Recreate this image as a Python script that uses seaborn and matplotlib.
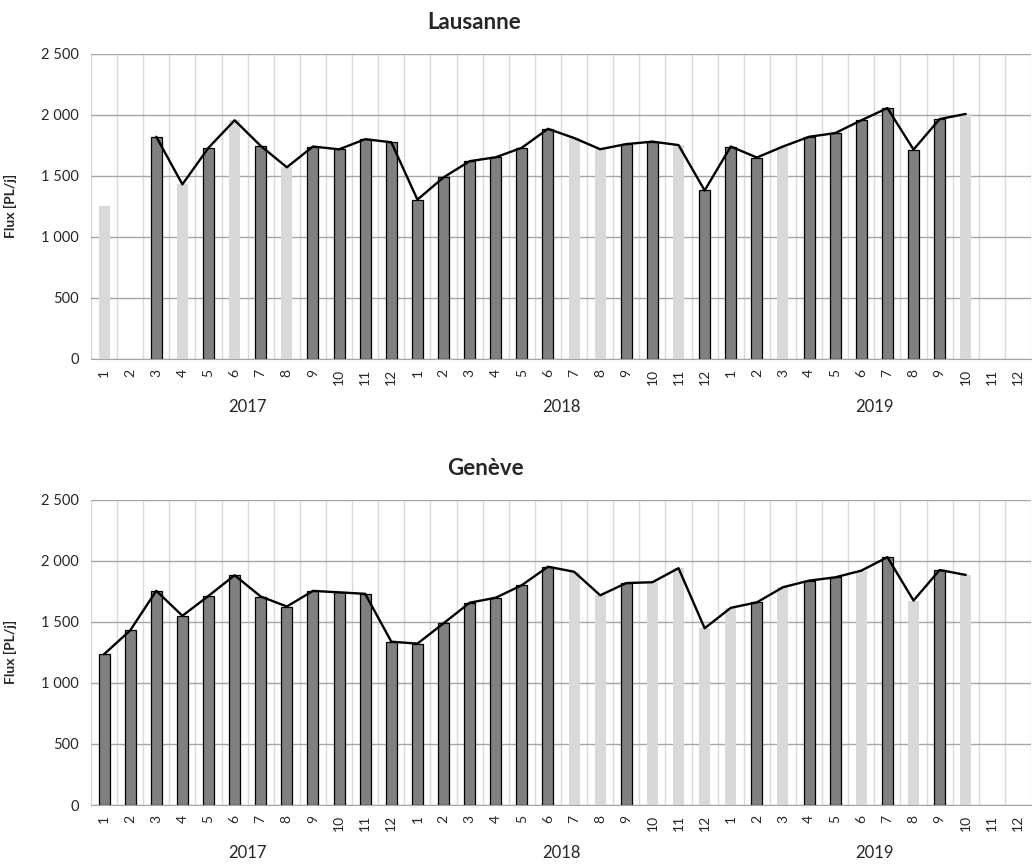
import pandas as pd
import seaborn as sns
import matplotlib.pyplot as plt
from matplotlib.ticker import FixedLocator

sns.set_style('white')
plt.rcParams['font.family'] = ['Lato', 'DejaVu Sans']

# Données
annees = ['2017', '2018', '2019']
mois = [str(m) for m in range(1, 13)] * 3
y_ticks = [0, 500, 1000, 1500, 2000, 2500]
y_labels = ['0', '500', '1 000', '1 500', '2 000', '2 500']

# M = mesuré (barre foncée), E = estimé (barre claire)
lausanne = [1250, None, 1820, 1430, 1730, 1955, 1745, 1570, 1740, 1717, 1800, 1775,
            1305, 1487, 1620, 1652, 1730, 1885, 1810, 1718, 1760, 1780, 1752, 1380,
            1740, 1650, 1740, 1820, 1850, 1955, 2055, 1715, 1965, 2007, None, None]
lausanne_type = ['E', 'E', 'M', 'E', 'M', 'E', 'M', 'E', 'M', 'M', 'M', 'M',
                 'M', 'M', 'M', 'M', 'M', 'M', 'E', 'E', 'M', 'M', 'E', 'M',
                 'M', 'M', 'E', 'M', 'M', 'M', 'M', 'M', 'M', 'E', 'E', 'E']
lausanne_sans_ligne = [0, 1]

geneve = [1235, 1430, 1755, 1550, 1713, 1882, 1708, 1626, 1754, 1742, 1730, 1338,
          1322, 1488, 1657, 1698, 1801, 1952, 1911, 1718, 1818, 1825, 1940, 1448,
          1615, 1660, 1784, 1838, 1865, 1920, 2030, 1675, 1925, 1885, None, None]
geneve_type = ['M', 'M', 'M', 'M', 'M', 'M', 'M', 'M', 'M', 'M', 'M', 'M',
               'M', 'M', 'M', 'M', 'M', 'M', 'E', 'E', 'M', 'E', 'E', 'E',
               'E', 'M', 'E', 'M', 'M', 'E', 'M', 'E', 'M', 'E', 'E', 'E']
geneve_sans_ligne = []

couleurs = {'M': '#808080', 'E': '#D9D9D9'}


def tracer(ax, valeurs, types, sans_ligne, titre, titre_x):
    df = pd.DataFrame({'pos': range(36), 'val': valeurs, 'type': types})
    df['val'] = df['val'].astype(float)
    barres = df.dropna(subset=['val'])

    sns.barplot(data=barres, x='pos', y='val', hue='type', order=list(range(36)),
                hue_order=['M', 'E'], palette=couleurs, dodge=False, width=0.42,
                errorbar=None, legend=False, ax=ax, zorder=2)
    # contour noir uniquement pour les barres foncées
    for patch in ax.containers[0]:
        patch.set_edgecolor('black')
        patch.set_linewidth(0.9)
    for patch in ax.containers[1]:
        patch.set_linewidth(0)

    ligne = df.drop(index=sans_ligne).dropna(subset=['val'])
    sns.lineplot(data=ligne, x='pos', y='val', color='black', linewidth=1.7,
                 ax=ax, zorder=3)

    ax.set_xlim(-0.5, 35.5)
    ax.set_ylim(0, 2500)
    ax.set_yticks(y_ticks)
    ax.set_yticklabels(y_labels, fontsize=10.5)
    ax.set_xticks(range(36))
    ax.set_xticklabels(mois, rotation=90, fontsize=10)
    ax.xaxis.set_minor_locator(FixedLocator([k - 0.5 for k in range(37)]))
    ax.tick_params(axis='x', which='major', length=0, pad=7)
    ax.tick_params(axis='x', which='minor', length=5, color='#A6A6A6', direction='out')
    ax.tick_params(axis='y', length=6, color='#A6A6A6', direction='out', pad=3)

    ax.set_axisbelow(True)
    ax.grid(axis='y', which='major', color='#A6A6A6', linewidth=1)
    ax.grid(axis='x', which='minor', color='#D9D9D9', linewidth=1)
    ax.grid(axis='x', which='major', visible=False)
    for s in ['top', 'right', 'left']:
        ax.spines[s].set_visible(False)
    ax.spines['bottom'].set_color('#A6A6A6')

    ax.set_xlabel('')
    ax.set_ylabel('Flux [PL/j]', fontsize=10, fontweight='bold')
    ax.yaxis.set_label_coords(-0.079, 0.5)

    for i, an in enumerate(annees):
        ax.text(5.5 + 12 * i, -0.157, an, transform=ax.get_xaxis_transform(),
                ha='center', va='center', fontsize=12)

    fig = ax.figure
    bb = ax.get_position()
    fig.text(titre_x, bb.y1 + 0.036, titre, ha='center', va='center',
             fontsize=16, fontweight='bold')


fig = plt.figure(figsize=(10.33, 8.67), dpi=100)
ax1 = fig.add_axes([0.0881, 0.586, 0.91, 0.352])
ax2 = fig.add_axes([0.0881, 0.0715, 0.91, 0.352])

tracer(ax1, lausanne, lausanne_type, lausanne_sans_ligne, 'Lausanne', 474 / 1033)
tracer(ax2, geneve, geneve_type, geneve_sans_ligne, 'Genève', 485 / 1033)

fig.savefig('out.png', dpi=100)
